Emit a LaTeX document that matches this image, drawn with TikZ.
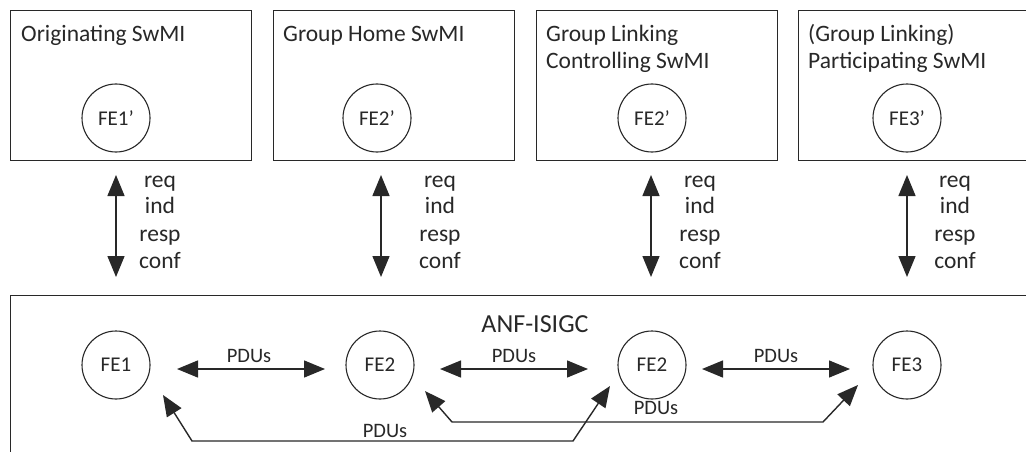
\documentclass[tikz,border=0pt]{standalone}
\usepackage{fontspec}
\setmainfont{Carlito}
\usetikzlibrary{arrows.meta,calc}
\definecolor{ink}{RGB}{40,40,40}
\begin{document}
\begin{tikzpicture}[x=1pt,y=-1pt,
 box/.style={draw=ink,line width=1.3pt,minimum width=241pt,minimum height=150pt,anchor=north west,inner sep=0pt},
 fe/.style={draw=ink,circle,line width=1.1pt,minimum size=68pt,inner sep=0pt,font=\fontsize{21}{21}\selectfont,text=ink},
 lbl/.style={font=\fontsize{20.5}{20.5}\selectfont,text=ink,inner sep=0pt},
 big/.style={font=\fontsize{23.5}{23.5}\selectfont,text=ink,inner sep=0pt},
 ttl/.style={big,anchor=base west},
 conn/.style={draw=ink,line width=1.4pt,{Triangle[length=21pt,width=17pt]}-{Triangle[length=21pt,width=17pt]}},
]
\path[use as bounding box,fill=white] (0,0) rectangle (1026,452);
\clip (0,0) rectangle (1026,452);

% top boxes
\node[box] (b1) at (10,10) {};
\node[box] (b2) at (273,10) {};
\node[box] (b3) at (536,10) {};
\node[box] (b4) at (798,10) {};
\node[ttl] (t1) at (21,42) {Originating SwMI};
\node[ttl] (t2) at (283,42) {Group Home SwMI};
\node[ttl] (t3a) at (546,42) {Group Linking};
\node[ttl] (t3b) at (546,68.5) {Controlling SwMI};
\node[ttl] (t4a) at (808,42) {(Group Linking)};
\node[ttl] (t4b) at (808,68.5) {Participating SwMI};
\node[fe] (c1) at (116,118) {FE1'};
\node[fe] (c2) at (377,118) {FE2'};
\node[fe] (c3) at (652,118) {FE2'};
\node[fe] (c4) at (907,118) {FE3'};

% bottom box
\node[draw=ink,line width=1.3pt,minimum width=1030pt,minimum height=180pt,anchor=north west,inner sep=0pt] (bb) at (10,295) {};
\node[lbl,font=\fontsize{26}{26}\selectfont,anchor=base] (anf) at (535,332) {ANF-ISIGC};
\node[fe] (d1) at (116,365) {FE1};
\node[fe] (d2) at (380,365) {FE2};
\node[fe] (d3) at (652,365) {FE2};
\node[fe] (d4) at (907,365) {FE3};

% vertical req/ind/resp/conf arrows
\foreach \i/\x/\l in {1/116/160,2/381/440,3/651/700,4/907/955}{
  \coordinate (va\i) at (\x,175);
  \coordinate (vb\i) at (\x,277);
  \draw[conn] (va\i) -- (vb\i);
  \node[big,anchor=base] (rq\i) at (\l,187) {req};
  \node[big,anchor=base] (in\i) at (\l,213.5) {ind};
  \node[big,anchor=base] (rs\i) at (\l,241) {resp};
  \node[big,anchor=base] (cf\i) at (\l,268) {conf};
}

% horizontal PDU arrows
\coordinate (h1a) at (177,369); \coordinate (h1b) at (325,369);
\coordinate (h2a) at (440,369); \coordinate (h2b) at (588,369);
\coordinate (h3a) at (702,369); \coordinate (h3b) at (850,369);
\draw[conn] (h1a) -- (h1b);
\draw[conn] (h2a) -- (h2b);
\draw[conn] (h3a) -- (h3b);
\node[lbl,anchor=base] (p1) at (249,362) {PDUs};
\node[lbl,anchor=base] (p2) at (514,362) {PDUs};
\node[lbl,anchor=base] (p3) at (776,362) {PDUs};

% long PDU paths
\coordinate (la1) at (425,391); \coordinate (la2) at (452,422);
\coordinate (la3) at (823,422); \coordinate (la4) at (858,385);
\draw[conn] (la1) -- (la2) -- (la3) -- (la4);
\node[lbl,anchor=base] (p4) at (656,414) {PDUs};

\coordinate (lb1) at (163,395); \coordinate (lb2) at (192,441);
\coordinate (lb3) at (573,441); \coordinate (lb4) at (610,386);
\draw[conn] (lb1) -- (lb2) -- (lb3) -- (lb4);
\node[lbl,anchor=base] (p5) at (385,437) {PDUs};
\end{tikzpicture}
\end{document}
